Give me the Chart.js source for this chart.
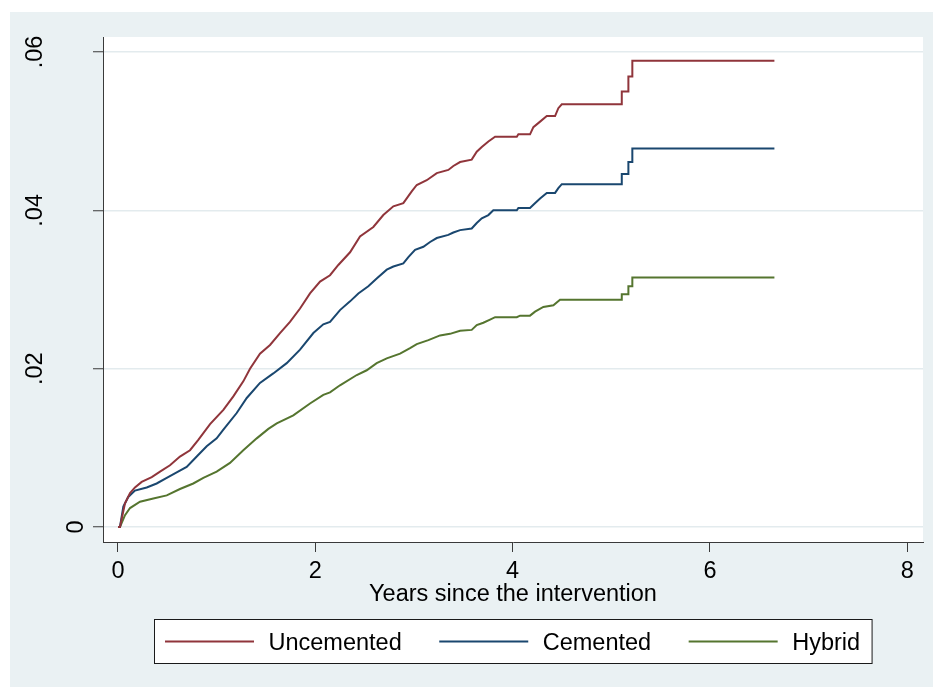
<!DOCTYPE html>
<html>
<head>
<meta charset="utf-8">
<script src="https://cdn.jsdelivr.net/npm/chart.js@4.4.1/dist/chart.umd.min.js"></script>
<style>
  html, body { margin: 0; padding: 0; background: #ffffff; }
  canvas { display: block; }
</style>
</head>
<body>
<canvas id="chart" width="933" height="687"></canvas>
<script>
// Cumulative incidence of revision by fixation type (years since the intervention)
const uncementedYears = [0, 0.02, 0.071, 0.122, 0.172, 0.24, 0.342, 0.426, 0.527, 0.628, 0.73, 0.814, 0.933, 1.068, 1.169, 1.27, 1.338, 1.439, 1.541, 1.642, 1.743, 1.845, 1.946, 2.048, 2.149, 2.233, 2.352, 2.453, 2.588, 2.689, 2.791, 2.892, 2.977, 3.028, 3.129, 3.231, 3.348, 3.399, 3.467, 3.585, 3.636, 3.687, 3.754, 3.822, 4.042, 4.058, 4.176, 4.21, 4.278, 4.346, 4.43, 4.463, 4.498, 5.106, 5.106, 5.173, 5.173, 5.213, 5.213, 6.653];
const uncementedRisk = [0, 0, 0.0030, 0.0043, 0.0050, 0.0057, 0.0063, 0.0070, 0.0078, 0.0089, 0.0097, 0.0110, 0.0130, 0.0148, 0.0165, 0.0184, 0.0200, 0.0219, 0.0230, 0.0245, 0.0259, 0.0276, 0.0295, 0.0310, 0.0318, 0.0331, 0.0347, 0.0367, 0.0379, 0.0394, 0.0405, 0.0409, 0.0424, 0.0432, 0.0438, 0.0447, 0.0451, 0.0456, 0.0461, 0.0464, 0.0474, 0.0480, 0.0487, 0.0493, 0.0493, 0.0496, 0.0496, 0.0505, 0.0512, 0.0519, 0.0519, 0.0529, 0.0534, 0.0534, 0.0550, 0.0550, 0.0569, 0.0569, 0.0589, 0.0589];

const cementedYears = [0, 0.02, 0.054, 0.104, 0.172, 0.291, 0.392, 0.494, 0.595, 0.696, 0.798, 0.899, 1.0, 1.068, 1.203, 1.305, 1.439, 1.574, 1.71, 1.845, 1.98, 2.081, 2.149, 2.25, 2.352, 2.436, 2.537, 2.622, 2.724, 2.791, 2.892, 2.943, 3.011, 3.095, 3.163, 3.231, 3.348, 3.399, 3.467, 3.585, 3.636, 3.687, 3.754, 3.804, 4.042, 4.058, 4.176, 4.21, 4.278, 4.346, 4.43, 4.463, 4.498, 5.106, 5.106, 5.173, 5.173, 5.213, 5.213, 6.653];
const cementedRisk = [0, 0, 0.0026, 0.0038, 0.0046, 0.0050, 0.0055, 0.0062, 0.0069, 0.0076, 0.0089, 0.0102, 0.0112, 0.0123, 0.0144, 0.0163, 0.0182, 0.0194, 0.0207, 0.0224, 0.0245, 0.0256, 0.0259, 0.0274, 0.0285, 0.0295, 0.0304, 0.0314, 0.0325, 0.0329, 0.0333, 0.0341, 0.0350, 0.0354, 0.0360, 0.0365, 0.0369, 0.0372, 0.0375, 0.0377, 0.0384, 0.0390, 0.0394, 0.0400, 0.0400, 0.0403, 0.0403, 0.0407, 0.0415, 0.0422, 0.0422, 0.0428, 0.0433, 0.0433, 0.0446, 0.0446, 0.0461, 0.0461, 0.0478, 0.0478];

const hybridYears = [0, 0.02, 0.071, 0.122, 0.223, 0.358, 0.494, 0.628, 0.763, 0.865, 1.0, 1.135, 1.27, 1.406, 1.524, 1.609, 1.777, 1.946, 2.081, 2.149, 2.25, 2.42, 2.521, 2.622, 2.724, 2.859, 2.96, 3.028, 3.146, 3.264, 3.365, 3.467, 3.585, 3.636, 3.703, 3.771, 3.822, 4.042, 4.075, 4.176, 4.227, 4.311, 4.413, 4.48, 5.106, 5.106, 5.173, 5.173, 5.213, 5.213, 6.653];
const hybridRisk = [0, 0, 0.0015, 0.0024, 0.0032, 0.0036, 0.0040, 0.0048, 0.0055, 0.0062, 0.0070, 0.0081, 0.0097, 0.0112, 0.0124, 0.0131, 0.0141, 0.0156, 0.0167, 0.0170, 0.0179, 0.0192, 0.0198, 0.0207, 0.0213, 0.0219, 0.0226, 0.0231, 0.0236, 0.0242, 0.0244, 0.0248, 0.0249, 0.0255, 0.0258, 0.0262, 0.0265, 0.0265, 0.0267, 0.0267, 0.0272, 0.0278, 0.0280, 0.0287, 0.0287, 0.0294, 0.0294, 0.0304, 0.0304, 0.0315, 0.0315];

const seriesNames = ['Uncemented', 'Cemented', 'Hybrid'];
const xTickValues = [0, 2, 4, 6, 8];
const yTickValues = [0, 0.02, 0.04, 0.06];
const yTickLabels = ['0', '.02', '.04', '.06'];
const xAxisTitle = 'Years since the intervention';

const FONT = '"Liberation Sans", Arial, Helvetica, sans-serif';
const FONT_SIZE = 23.5;
const REGION_BG = '#eaf1f3';
const GRID_COLOR = '#e3ebee';
const AXIS_COLOR = '#3a3a3a';
const seriesColors = ['#90353b', '#1a476f', '#55752f'];

function toPoints(xs, ys) {
  return xs.map((x, i) => ({ x: x, y: ys[i] }));
}

// Graph region, plot region, rotated y labels, axis title and boxed legend
const stataFrame = {
  id: 'stataFrame',
  beforeDraw(chart) {
    const { ctx, chartArea, width, height } = chart;
    ctx.save();
    ctx.fillStyle = '#ffffff';
    ctx.fillRect(0, 0, width, height);
    ctx.fillStyle = REGION_BG;
    ctx.fillRect(10, 12, width - 10, height - 12);
    ctx.fillStyle = '#ffffff';
    ctx.fillRect(chartArea.left, chartArea.top, chartArea.right - chartArea.left, chartArea.bottom - chartArea.top);
    ctx.restore();
  },
  afterDraw(chart) {
    const { ctx, chartArea } = chart;
    const yScale = chart.scales.y;
    ctx.save();
    ctx.font = FONT_SIZE + 'px ' + FONT;
    ctx.fillStyle = '#000000';

    // vertical tick labels, reading upward; longer labels sit further from the axis
    const zeroW = ctx.measureText('0').width;
    yTickValues.forEach((v, i) => {
      const label = yTickLabels[i];
      const w = ctx.measureText(label).width;
      const py = yScale.getPixelForValue(v);
      const bx = yScale.right - 20 - 2.07 * (w - zeroW);
      ctx.save();
      ctx.translate(bx, py);
      ctx.rotate(-Math.PI / 2);
      ctx.textAlign = 'center';
      ctx.textBaseline = 'alphabetic';
      ctx.fillText(label, 0, 0);
      ctx.restore();
    });

    // x axis title
    const cx = (chartArea.left + chartArea.right) / 2;
    ctx.textAlign = 'center';
    ctx.textBaseline = 'alphabetic';
    ctx.fillText(xAxisTitle, cx, chartArea.bottom + 59);

    // legend box
    const sampleLen = 89, sampleGap = 14.5, itemGap = 37.5, padL = 10.5, padR = 12;
    const widths = chart.data.datasets.map(d => ctx.measureText(d.label).width);
    let total = padL + padR;
    widths.forEach((w, i) => { total += sampleLen + sampleGap + w + (i < widths.length - 1 ? itemGap : 0); });
    const boxLeft = Math.round(cx - total / 2) + 0.5;
    const boxTop = chartArea.bottom + 77.5;
    const boxH = 44;
    ctx.fillStyle = '#ffffff';
    ctx.fillRect(boxLeft, boxTop, total, boxH);
    ctx.strokeStyle = '#1a1a1a';
    ctx.lineWidth = 1;
    ctx.strokeRect(boxLeft, boxTop, total, boxH);

    let x = boxLeft + padL;
    const midY = boxTop + boxH / 2;
    chart.data.datasets.forEach((d, i) => {
      ctx.strokeStyle = d.borderColor;
      ctx.lineWidth = 2;
      ctx.beginPath();
      ctx.moveTo(x, midY);
      ctx.lineTo(x + sampleLen, midY);
      ctx.stroke();
      x += sampleLen + sampleGap;
      ctx.fillStyle = '#000000';
      ctx.textAlign = 'left';
      ctx.fillText(d.label, x, midY + 8.7);
      x += widths[i] + itemGap;
    });
    ctx.restore();
  }
};

const datasets = [
  toPoints(uncementedYears, uncementedRisk),
  toPoints(cementedYears, cementedRisk),
  toPoints(hybridYears, hybridRisk)
].map((pts, i) => ({
  label: seriesNames[i],
  data: pts,
  borderColor: seriesColors[i],
  backgroundColor: seriesColors[i],
  borderWidth: 2,
  pointRadius: 0,
  pointHoverRadius: 0,
  fill: false,
  tension: 0
}));

new Chart(document.getElementById('chart'), {
  type: 'line',
  data: { datasets: datasets },
  plugins: [stataFrame],
  options: {
    responsive: false,
    devicePixelRatio: 1,
    animation: false,
    events: [],
    layout: { padding: { top: 37, right: 10, left: 0, bottom: 0 } },
    plugins: {
      legend: { display: false },
      tooltip: { enabled: false },
      title: { display: false }
    },
    scales: {
      x: {
        type: 'linear',
        min: -0.152,
        max: 8.159,
        afterBuildTicks: s => { s.ticks = xTickValues.map(v => ({ value: v })); },
        afterFit: s => { s.height = 145; },
        grid: { drawOnChartArea: false, drawTicks: true, tickLength: 10, tickColor: AXIS_COLOR, tickWidth: 1 },
        border: { display: true, color: AXIS_COLOR, width: 1 },
        ticks: {
          autoSkip: false,
          maxRotation: 0,
          minRotation: 0,
          padding: 7.5,
          color: '#000000',
          font: { family: FONT, size: FONT_SIZE, lineHeight: 1 },
          callback: v => String(v)
        }
      },
      y: {
        type: 'linear',
        min: -0.00189,
        max: 0.06189,
        afterBuildTicks: s => { s.ticks = yTickValues.map(v => ({ value: v })); },
        afterFit: s => { s.width = 103; },
        grid: { drawOnChartArea: true, color: GRID_COLOR, lineWidth: 1.5, drawTicks: true, tickLength: 10, tickColor: AXIS_COLOR, tickWidth: 1 },
        border: { display: true, color: AXIS_COLOR, width: 1 },
        ticks: { display: false }
      }
    }
  }
});
</script>
</body>
</html>
